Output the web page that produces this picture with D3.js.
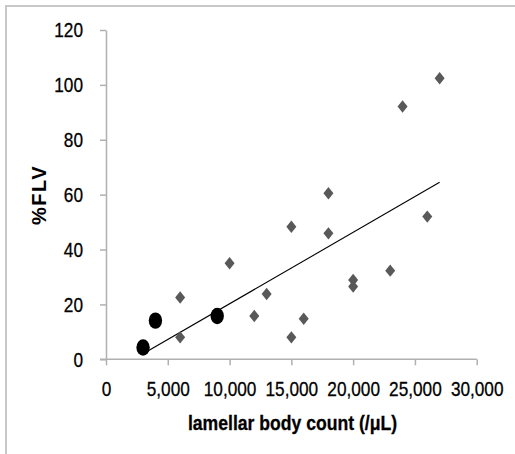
<!DOCTYPE html>
<html>
<head>
<meta charset="utf-8">
<script src="https://cdn.jsdelivr.net/npm/d3@7"></script>
<style>
  html, body { margin: 0; padding: 0; background: #fff; }
  svg { display: block; }
</style>
</head>
<body>
<svg id="chart" width="515" height="454"></svg>
<script>
// ---- data ----
const xTicks = [0, 5000, 10000, 15000, 20000, 25000, 30000];
const yTicks = [0, 20, 40, 60, 80, 100, 120];

// diamond series (grey)
const diamondX = [6000, 6000, 10000, 12000, 13000, 15000, 15000, 16000, 18000, 18000, 20000, 20000, 23000, 24000, 26000, 27000];
const diamondY = [22.5, 8.0, 35.0, 15.8, 23.8, 48.3, 8.0, 14.8, 60.5, 45.9, 28.9, 26.5, 32.3, 92.1, 52.0, 102.4];

// circle series (black)
const circleX = [3000, 4000, 9000];
const circleY = [4.3, 14.1, 15.8];

// trend line endpoints
const trendX = [3000, 27000];
const trendY = [2.0, 64.5];

const xLabel = "lamellar body count (/\u03bcL)";
const yLabel = "%FLV";

// ---- layout ----
const svg = d3.select("#chart");
const plotLeft = 106, plotTop = 30, plotRight = 476.7, plotBottom = 359.3;

const x = d3.scaleLinear().domain([0, 30000]).range([plotLeft, plotRight]);
const y = d3.scaleLinear().domain([0, 120]).range([plotBottom, plotTop]);

// border
svg.append("path")
  .attr("d", `M6,454 L6,6 L515,6`)
  .attr("fill", "none")
  .attr("stroke", "#c8c8c8")
  .attr("stroke-width", 2);

const axisColor = "#b0b0b0";
const tickFont = "'Liberation Sans', Arial, sans-serif";
const squeeze = 0.82;

// x axis
const gx = svg.append("g")
  .attr("transform", `translate(0,${plotBottom})`)
  .call(d3.axisBottom(x).tickValues(xTicks).tickSize(6).tickSizeOuter(0).tickPadding(16)
    .tickFormat(d3.format(",")));
// y axis
const gy = svg.append("g")
  .attr("transform", `translate(${plotLeft},0)`)
  .call(d3.axisLeft(y).tickValues(yTicks).tickSize(6).tickSizeOuter(0).tickPadding(17));

[gx, gy].forEach(g => {
  g.selectAll("path.domain").attr("stroke", axisColor).attr("stroke-width", 1.5);
  g.selectAll(".tick line").attr("stroke", axisColor).attr("stroke-width", 1.5);
  g.selectAll(".tick text")
    .attr("fill", "#000")
    .attr("stroke", "#000")
    .attr("stroke-width", 0.3)
    .style("font-family", tickFont)
    .style("font-size", "21px");
});
gx.selectAll(".tick text").attr("transform", `scale(${squeeze},1)`);
gy.selectAll(".tick text")
  .attr("x", -23 / squeeze)
  .attr("transform", `scale(${squeeze},1)`);

// extend x axis left to meet y tick
gx.select("path.domain").attr("d", `M${plotLeft - 6},0H${plotRight}`);

// trend line
const line = d3.line().x(d => x(d[0])).y(d => y(d[1]));
svg.append("path")
  .datum(trendX.map((v, i) => [v, trendY[i]]))
  .attr("d", line)
  .attr("fill", "none")
  .attr("stroke", "#000")
  .attr("stroke-width", 1.1);

// diamonds
const dw = 5, dh = 6.2;
svg.append("g").selectAll("path")
  .data(diamondX.map((v, i) => [v, diamondY[i]]))
  .join("path")
  .attr("transform", d => `translate(${x(d[0])},${y(d[1])})`)
  .attr("d", `M0,${-dh}L${dw},0L0,${dh}L${-dw},0Z`)
  .attr("fill", "#595959");

// circles
svg.append("g").selectAll("ellipse")
  .data(circleX.map((v, i) => [v, circleY[i]]))
  .join("ellipse")
  .attr("cx", d => x(d[0]))
  .attr("cy", d => y(d[1]))
  .attr("rx", 6.7)
  .attr("ry", 8.2)
  .attr("fill", "#000");

// axis titles
svg.append("text")
  .attr("transform", `translate(292.5,429.5) scale(0.88,1)`)
  .attr("text-anchor", "middle")
  .attr("stroke", "#000")
  .attr("stroke-width", 0.3)
  .style("font-family", "'Liberation Sans', Arial, sans-serif")
  .style("font-weight", "bold")
  .style("font-size", "20px")
  .text(xLabel);

svg.append("text")
  .attr("transform", `translate(45.5,195) rotate(-90)`)
  .attr("text-anchor", "middle")
  .style("font-family", "'Liberation Sans', Arial, sans-serif")
  .style("font-weight", "bold")
  .style("font-size", "20px")
  .style("letter-spacing", "1.5px")
  .text(yLabel);
</script>
</body>
</html>
